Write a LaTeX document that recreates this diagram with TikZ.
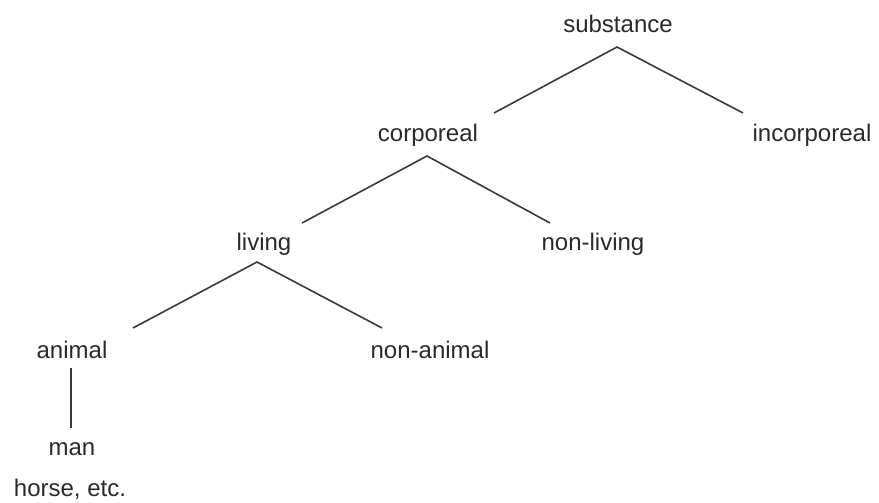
\documentclass[tikz,border=0pt]{standalone}
\usepackage{fontspec}
\setmainfont{Liberation Sans}
\usetikzlibrary{calc}
\definecolor{ink}{HTML}{2A2A2A}
\definecolor{edgeink}{HTML}{3A3A3A}
\tikzset{
  term/.style={anchor=base, inner sep=0pt, text=ink, font=\fontsize{24}{29}\selectfont},
  branch/.style={draw=edgeink, line width=1.6pt}
}
\begin{document}
\begin{tikzpicture}[x=1pt,y=-1pt]
\useasboundingbox (0,0) rectangle (879,503);
\node[term] (substance) at (618,33) {substance};
\node[term] (corporeal) at (428,142) {corporeal};
\node[term] (incorporeal) at (812,142) {incorporeal};
\node[term] (living) at (264,250) {living};
\node[term] (nonliving) at (593,250) {non-living};
\node[term] (animal) at (72,358) {animal};
\node[term] (nonanimal) at (430,358) {non-animal};
\node[term] (man) at (72,455) {man};
\node[term] (horse) at (70,496) {horse, etc.};
\draw[branch] ($(corporeal.base)+(66,-29)$) -- ($(substance.base)+(-1,14)$) -- ($(incorporeal.base)+(-69,-29)$);
\draw[branch] ($(living.base)+(38,-27)$) -- ($(corporeal.base)+(-1,14)$) -- ($(nonliving.base)+(-43,-27)$);
\draw[branch] ($(animal.base)+(61,-30)$) -- ($(living.base)+(-7,12)$) -- ($(nonanimal.base)+(-48,-30)$);
\draw[branch] ($(animal.base)+(-1,10)$) -- ($(man.base)+(-1,-27)$);
\end{tikzpicture}
\end{document}
